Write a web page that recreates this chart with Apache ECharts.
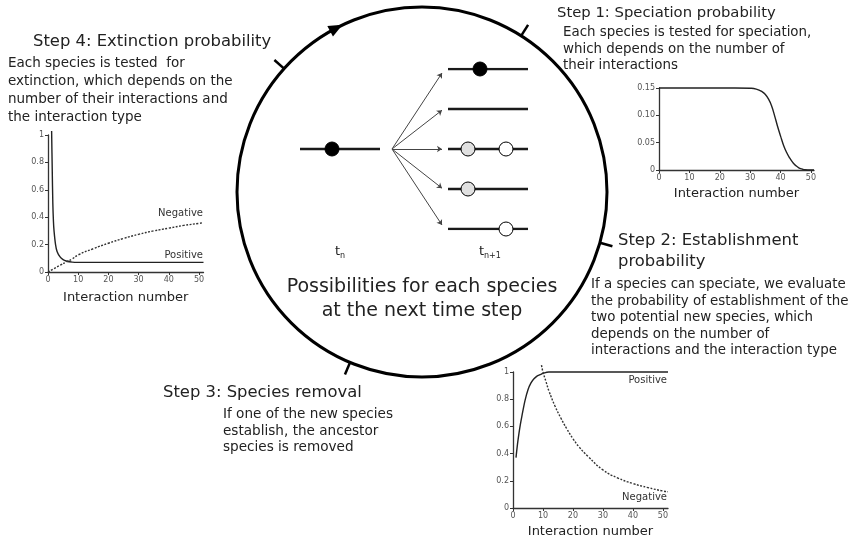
<!DOCTYPE html>
<html><head><meta charset="utf-8">
<script src="https://cdn.jsdelivr.net/npm/echarts@6/dist/echarts.min.js"></script>
<style>html,body{margin:0;padding:0;background:#fff}#c{width:859px;height:539px}</style>
</head><body><div id="c"></div>
<script>
// ---- Step 1: speciation probability ----
const speciationX = [0, 5, 10, 15, 20, 25, 30, 32, 34, 35, 36, 37, 38, 39, 40, 41, 42, 43, 44, 45, 46, 47, 48, 50, 51];
const speciationY = [0.15, 0.15, 0.15, 0.15, 0.15, 0.15, 0.1495, 0.148, 0.143, 0.138, 0.13, 0.118, 0.1, 0.08, 0.062, 0.045, 0.032, 0.022, 0.014, 0.008, 0.004, 0.002, 0.0005, 0, 0];
const speciationXTicks = [0, 10, 20, 30, 40, 50];
const speciationYTicks = ['0', '0.05', '0.10', '0.15'];

// ---- Step 4: extinction probability ----
const extinctionPosX = [1.2, 1.4, 1.6, 1.8, 2, 2.5, 3, 4, 5, 6, 8, 10, 20, 30, 40, 51.5];
const extinctionPosY = [1.03, 0.75, 0.5, 0.37, 0.3, 0.2, 0.15, 0.11, 0.09, 0.08, 0.072, 0.07, 0.07, 0.07, 0.07, 0.07];
const extinctionNegX = [0, 2, 4, 6, 8, 10, 15, 20, 25, 30, 35, 40, 45, 50, 51.5];
const extinctionNegY = [0, 0.025, 0.05, 0.072, 0.095, 0.125, 0.17, 0.21, 0.245, 0.275, 0.3, 0.32, 0.34, 0.355, 0.36];

// ---- Step 2: establishment probability ----
const establishPosX = [1, 1.5, 2, 2.5, 3, 4, 5, 6, 7, 8, 9, 10, 12, 15, 20, 30, 40, 51.7];
const establishPosY = [0.37, 0.47, 0.55, 0.62, 0.68, 0.79, 0.87, 0.92, 0.95, 0.97, 0.98, 0.99, 1.0, 1.0, 1.0, 1.0, 1.0, 1.0];
const establishNegX = [9.5, 10, 11, 12, 14, 16, 18, 20, 22, 25, 30, 35, 40, 45, 50, 51.7];
const establishNegY = [1.05, 1.0, 0.93, 0.86, 0.75, 0.66, 0.58, 0.51, 0.45, 0.38, 0.28, 0.22, 0.18, 0.15, 0.125, 0.12];

// ---- Central scheme (abstract units) ----
const ancestorLine = [[0, 2], [2, 2]];
const ancestorNode = [0.8, 2];
const descendantRows = [4, 3, 2, 1, 0];
const descendantSpan = [3.7, 5.7];
const arrowOrigin = [2.3, 2];
const arrowEnds = [[3.55, 3.9], [3.55, 2.97], [3.55, 2], [3.55, 1.02], [3.55, 0.1]];
const descendantNodes = [[4.5, 4, 'black'], [4.2, 2, 'grey'], [5.15, 2, 'white'], [4.2, 1, 'grey'], [5.15, 0, 'white']];

const zip = (xs, ys) => xs.map((x, i) => [x, ys[i]]);
const FONT = 'DejaVu Sans';
const TXT = '#222';
const nodeColors = { black: '#000', grey: '#e0e0e0', white: '#fff' };

const chart = echarts.init(document.getElementById('c'));

function valueAxisX(gridIndex, max, nameGap) {
  return {
    type: 'value', gridIndex, min: 0, max, interval: 10,
    name: 'Interaction number', nameLocation: 'middle', nameGap,
    nameTextStyle: { fontFamily: FONT, fontSize: 13, color: TXT },
    axisLine: { show: true, onZero: false, lineStyle: { color: '#333', width: 1.3 } },
    axisTick: { show: true, length: 3, lineStyle: { color: '#333' } },
    axisLabel: { fontFamily: FONT, fontSize: 8, color: '#555', margin: 4, showMaxLabel: false,
      formatter: v => (v % 10 === 0 ? String(v) : '') },
    splitLine: { show: false }
  };
}
function valueAxisY(gridIndex, max, interval, fmt) {
  return {
    type: 'value', gridIndex, min: 0, max, interval,
    axisLine: { show: true, lineStyle: { color: '#333', width: 1.3 } },
    axisTick: { show: true, length: 3, lineStyle: { color: '#333' } },
    axisLabel: { fontFamily: FONT, fontSize: 8, color: '#555', margin: 4, formatter: fmt },
    splitLine: { show: false }
  };
}
const solid = { color: '#222', width: 1.4 };
const dotted = { color: '#333', width: 1.4, type: [2, 1.5] };

// tree lines
const treeSegments = [{ coords: ancestorLine }].concat(
  descendantRows.map(r => ({ coords: [[descendantSpan[0], r], [descendantSpan[1], r]] })));
const treeArrows = arrowEnds.map(e => ({ coords: [arrowOrigin, e] }));
const treeNodes = [{ value: ancestorNode, itemStyle: { color: '#000' } }].concat(
  descendantNodes.map(n => ({ value: [n[0], n[1]], itemStyle: { color: nodeColors[n[2]] } })));

// cycle decoration
const C = { cx: 422, cy: 192, r: 185 };
const tickAngles = [-57.6, 15.9, 112.9, -138.2];
const arrowAngle = -117.9;
const deg = a => a * Math.PI / 180;
const ticks = tickAngles.map(a => {
  const c = Math.cos(deg(a)), s = Math.sin(deg(a));
  return { type: 'line', shape: { x1: C.cx + c * C.r, y1: C.cy + s * C.r, x2: C.cx + c * (C.r + 13), y2: C.cy + s * (C.r + 13) },
    style: { stroke: '#000', lineWidth: 2.5 } };
});
const arrowHead = (() => {
  const c = Math.cos(deg(arrowAngle)), s = Math.sin(deg(arrowAngle));
  const px = C.cx + c * C.r, py = C.cy + s * C.r;
  const tx = -s, ty = c; // clockwise tangent (screen coords)
  const nx = c, ny = s;
  return { type: 'polygon', shape: { points: [
      [px + tx * 8, py + ty * 8],
      [px - tx * 6 + nx * 6, py - ty * 6 + ny * 6],
      [px - tx * 6 - nx * 6, py - ty * 6 - ny * 6]] },
    style: { fill: '#000' } };
})();

function txt(x, y, text, size, extra) {
  return Object.assign({ type: 'text', x, y, style: Object.assign({ text, fontFamily: FONT, fontSize: size, fill: TXT,
    verticalAlign: 'middle', align: 'left' }, extra || {}) });
}
function block(x, yTop, text, size, lh) {
  return { type: 'text', x, y: yTop, style: { text, fontFamily: FONT, fontSize: size, fill: TXT, lineHeight: lh,
    verticalAlign: 'top', align: 'left' } };
}

chart.setOption({
  animation: false,
  grid: [
    { left: 659, top: 88, width: 155, height: 82 },
    { left: 48, top: 135, width: 155.5, height: 137 },
    { left: 513, top: 372, width: 155, height: 136 },
    { left: 300, top: 69, width: 228, height: 160 }
  ],
  xAxis: [
    valueAxisX(0, 51, 17),
    valueAxisX(1, 51.5, 19),
    valueAxisX(2, 51.7, 17),
    { type: 'value', gridIndex: 3, min: 0, max: 5.7, show: false }
  ],
  yAxis: [
    valueAxisY(0, 0.15, 0.05, v => (v === 0 ? '0' : v.toFixed(2))),
    valueAxisY(1, 1, 0.2, v => (v === 0 ? '0' : String(+v.toFixed(1)))),
    valueAxisY(2, 1, 0.2, v => (v === 0 ? '0' : String(+v.toFixed(1)))),
    { type: 'value', gridIndex: 3, min: 0, max: 4, show: false }
  ],
  series: [
    { type: 'line', xAxisIndex: 0, yAxisIndex: 0, data: zip(speciationX, speciationY), smooth: true, symbol: 'none', lineStyle: solid, clip: false },
    { type: 'line', xAxisIndex: 1, yAxisIndex: 1, data: zip(extinctionPosX, extinctionPosY), smooth: 0.3, symbol: 'none', lineStyle: solid, clip: false },
    { type: 'line', xAxisIndex: 1, yAxisIndex: 1, data: zip(extinctionNegX, extinctionNegY), smooth: true, symbol: 'none', lineStyle: dotted, clip: false },
    { type: 'line', xAxisIndex: 2, yAxisIndex: 2, data: zip(establishPosX, establishPosY), smooth: 0.3, symbol: 'none', lineStyle: solid, clip: false },
    { type: 'line', xAxisIndex: 2, yAxisIndex: 2, data: zip(establishNegX, establishNegY), smooth: true, symbol: 'none', lineStyle: dotted, clip: false },
    { type: 'lines', coordinateSystem: 'cartesian2d', xAxisIndex: 3, yAxisIndex: 3, data: treeSegments,
      lineStyle: { color: '#1a1a1a', width: 2.4, opacity: 1 }, symbol: 'none', z: 2 },
    { type: 'lines', coordinateSystem: 'cartesian2d', xAxisIndex: 3, yAxisIndex: 3, data: treeArrows,
      lineStyle: { color: '#444', width: 1, opacity: 1 }, symbol: ['none', 'arrow'], symbolSize: 5, z: 2 },
    { type: 'scatter', xAxisIndex: 3, yAxisIndex: 3, data: treeNodes, symbol: 'circle', symbolSize: 14,
      itemStyle: { borderColor: '#000', borderWidth: 1, opacity: 1 }, z: 3 }
  ],
  graphic: [
    { type: 'circle', shape: C, style: { stroke: '#000', lineWidth: 3, fill: 'none' } },
    ...ticks, arrowHead,
    txt(33, 42, 'Step 4: Extinction probability', 16.4),
    block(8, 54, 'Each species is tested  for\nextinction, which depends on the\nnumber of their interactions and\nthe interaction type', 13.5, 18),
    txt(557, 13, 'Step 1: Speciation probability', 14.8),
    block(563, 24.5, 'Each species is tested for speciation,\nwhich depends on the number of\ntheir interactions', 13.4, 16.5),
    txt(618, 241, 'Step 2: Establishment', 16.4),
    txt(618, 262, 'probability', 16.4),
    block(591, 276.5, 'If a species can speciate, we evaluate\nthe probability of establishment of the\ntwo potential new species, which\ndepends on the number of\ninteractions and the interaction type', 13.4, 16.5),
    txt(163, 393, 'Step 3: Species removal', 16.4),
    block(223, 406.5, 'If one of the new species\nestablish, the ancestor\nspecies is removed', 13.6, 16.5),
    txt(422, 287, 'Possibilities for each species', 19, { align: 'center' }),
    txt(422, 311, 'at the next time step', 19, { align: 'center' }),
    txt(335, 252, 't', 13),
    txt(340, 256, 'n', 8),
    txt(479, 252, 't', 13),
    txt(484, 256, 'n+1', 8),
    txt(203, 213, 'Negative', 10, { align: 'right', fill: '#333' }),
    txt(203, 255, 'Positive', 10, { align: 'right', fill: '#333' }),
    txt(667, 380, 'Positive', 10, { align: 'right', fill: '#333' }),
    txt(667, 497, 'Negative', 10, { align: 'right', fill: '#333' })
  ]
});
</script>
</body></html>
